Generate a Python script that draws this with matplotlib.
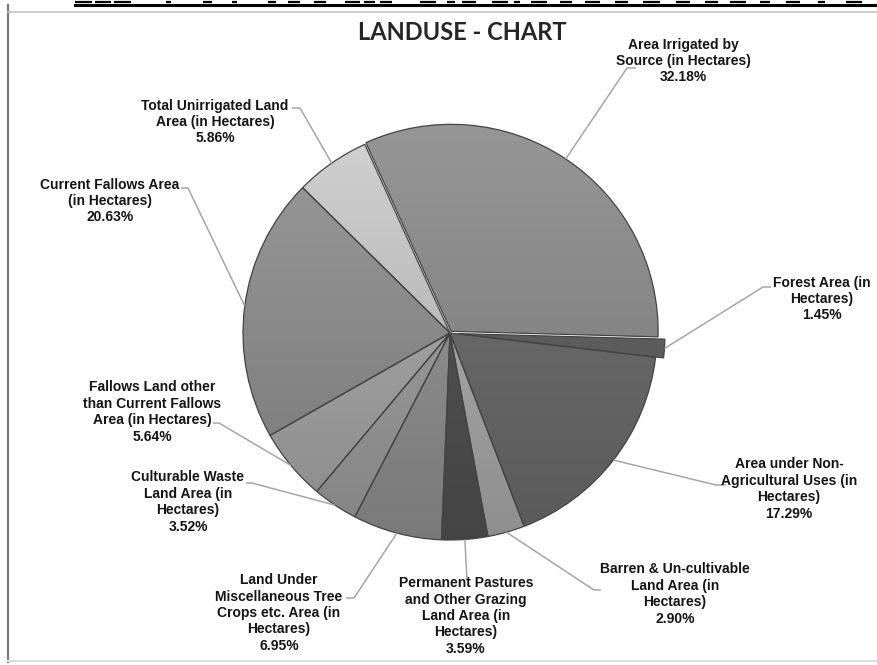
import numpy as np
import matplotlib
matplotlib.use("Agg")
import matplotlib.pyplot as plt
from matplotlib.colors import to_rgb

# slice data, clockwise from the top-left edge of the biggest slice
categories = [
    "Area Irrigated by\nSource (in Hectares)",
    "Forest Area (in\nHectares)",
    "Area under Non-\nAgricultural Uses (in\nHectares)",
    "Barren & Un-cultivable\nLand Area (in\nHectares)",
    "Permanent Pastures\nand Other Grazing\nLand Area (in\nHectares)",
    "Land Under\nMiscellaneous Tree\nCrops etc. Area (in\nHectares)",
    "Culturable Waste\nLand Area (in\nHectares)",
    "Fallows Land other\nthan Current Fallows\nArea (in Hectares)",
    "Current Fallows Area\n(in Hectares)",
    "Total Unirrigated Land\nArea (in Hectares)",
]
shares = [32.18, 1.45, 17.29, 2.90, 3.59, 6.95, 3.52, 5.64, 20.63, 5.86]
title = "LANDUSE - CHART"

# styling / layout (pixel units, y measured from the top)
W, H = 878, 665
colors = ["#878787", "#5e5e5e", "#686868", "#a4a4a4", "#4f4f4f",
          "#8c8c8c", "#989898", "#a0a0a0", "#8a8a8a", "#bcbcbc"]
explode = [2, 8, 0, 0, 0, 0, 0, 0, 0, 0]
# text centre x, text centre y, elbow point, end of short horizontal
label_layout = [
    (683, 61, (627, 68), (636, 68)),
    (822, 299, (763, 287), (771, 287)),
    (789, 489, (716, 485), (726, 485)),
    (675, 594, (594, 590), (601, 590)),
    (466, 616, (467, 580), (467, 580)),
    (279, 613, (354, 598), (346, 598)),
    (188, 502, (252, 483), (246, 483)),
    (152, 412, (219, 423), (213, 423)),
    (110, 201, (188, 188), (181, 188)),
    (215, 122, (300, 108), (292, 108)),
]
label_font = ["Liberation Sans Narrow", "Liberation Sans", "DejaVu Sans"]

fig = plt.figure(figsize=(W / 100, H / 100), dpi=100)
ax = fig.add_axes([0, 0, 1, 1])

wedges, _ = ax.pie(shares, colors=colors, explode=explode, startangle=114.3,
                   counterclock=False, center=(450, H - 333), radius=207,
                   wedgeprops=dict(edgecolor="#444444", linewidth=0.9))

# vertical shading inside every slice
for w, c in zip(wedges, colors):
    base = np.array(to_rgb(c))
    fac = np.linspace(1.12, 0.86, 200)[:, None, None]
    img = np.clip(base[None, None, :] * fac * np.ones((1, 2, 1)), 0, 1)
    cx, cy = w.center
    r = w.r + 12
    im = ax.imshow(img, extent=(cx - r, cx + r, cy - r, cy + r), origin="upper",
                   aspect="auto", zorder=w.get_zorder() - 0.5, interpolation="bilinear")
    im.set_clip_path(w)
    w.set_facecolor("none")

# labels with leader lines
for w, name, share, (tx, ty, elbow, end) in zip(wedges, categories, shares, label_layout):
    mid = np.deg2rad((w.theta1 + w.theta2) / 2)
    ax_x = w.center[0] + w.r * np.cos(mid)
    ax_y = w.center[1] + w.r * np.sin(mid)
    ax.plot([ax_x, elbow[0], end[0]], [ax_y, H - elbow[1], H - end[1]],
            color="#a6a6a6", lw=1.1, zorder=1, solid_capstyle="butt")
    ax.text(tx, H - ty, f"{name}\n{share:.2f}%", ha="center", va="center",
            family=label_font, fontweight="bold", fontsize=10, linespacing=1.22,
            color="#151515", zorder=5)

ax.text(462, H - 33, title, ha="center", va="center", family=["Lato", "DejaVu Sans"],
        fontweight="bold", fontsize=17, color="#262626")

# page frame and the cut-off heading line above the chart
ax.plot([8.5, 8.5], [H - 5, H - 662], color="#7a7a7a", lw=1.6)
ax.plot([8, W], [H - 12, H - 12], color="#c4c4c4", lw=1.2)
ax.plot([8, W], [H - 661, H - 661], color="#dcdcdc", lw=1.5)
ax.plot([75, W], [H - 5, H - 5], color="black", lw=2.2)
heading_bits = [(75, 92), (95, 111), (114, 131), (166, 171), (203, 212), (232, 237),
                (268, 276), (288, 300), (314, 326), (345, 360), (364, 375), (380, 392),
                (420, 436), (447, 455), (462, 476), (492, 508), (514, 520), (531, 547),
                (560, 572), (585, 600), (615, 628), (643, 660), (676, 690), (705, 718),
                (730, 746), (760, 770), (786, 800), (818, 825), (846, 862)]
for x0, x1 in heading_bits:
    ax.plot([x0, x1], [H - 1.5, H - 1.5], color="black", lw=1.6, solid_capstyle="butt")

ax.set_xlim(0, W)
ax.set_ylim(0, H)
ax.set_aspect("equal")
ax.axis("off")

fig.savefig("out.png", dpi=100)
